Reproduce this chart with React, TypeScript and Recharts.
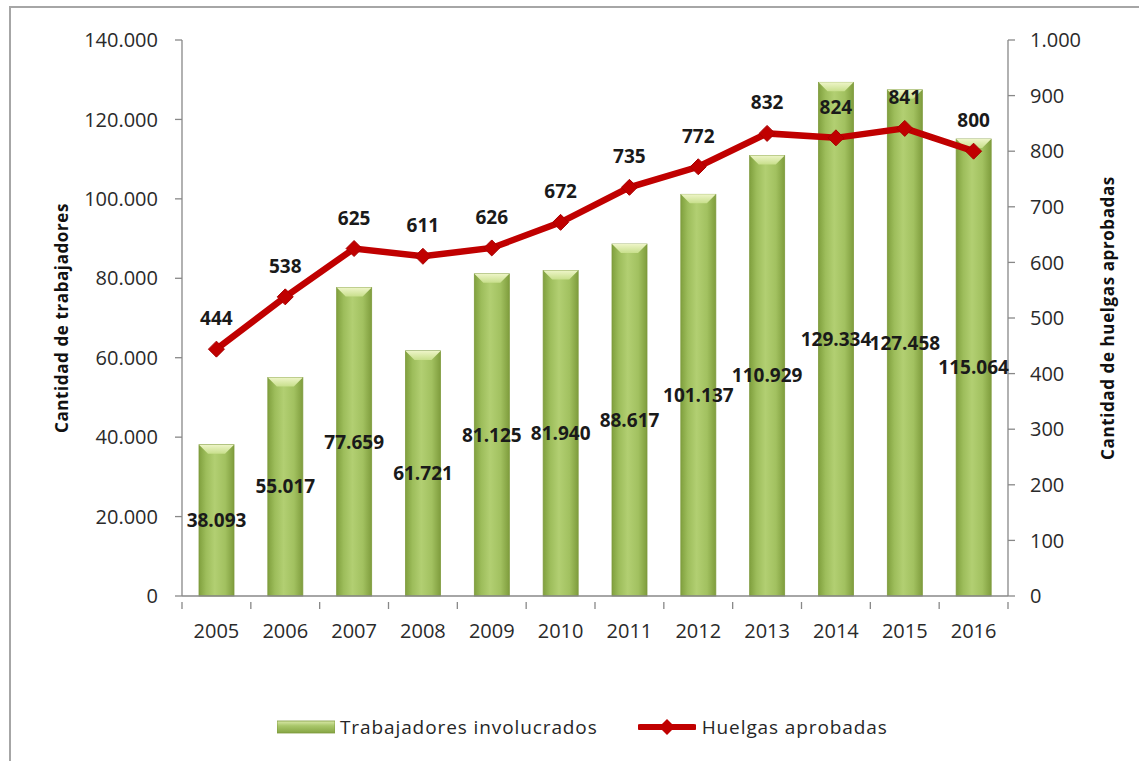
import React from 'react';
import { ComposedChart, Bar, Line, XAxis, YAxis, LabelList, Legend } from 'recharts';

const years = ['2005', '2006', '2007', '2008', '2009', '2010', '2011', '2012', '2013', '2014', '2015', '2016'];
const trabajadores = [38093, 55017, 77659, 61721, 81125, 81940, 88617, 101137, 110929, 129334, 127458, 115064];
const huelgas = [444, 538, 625, 611, 626, 672, 735, 772, 832, 824, 841, 800];
const leftTicks = [0, 20000, 40000, 60000, 80000, 100000, 120000, 140000];
const rightTicks = [0, 100, 200, 300, 400, 500, 600, 700, 800, 900, 1000];

const data = years.map((y, i) => ({ year: y, trab: trabajadores[i], huel: huelgas[i] }));

const FONT = '"Open Sans", "Liberation Sans", Arial, sans-serif';
const RED = '#c00000';

const fmt = (v: any) => String(v).replace(/\B(?=(\d{3})+(?!\d))/g, '.');

const BarShape = (props: any) => {
  const { x, y, width, height } = props;
  if (!height || height <= 0) return null;
  const b = Math.min(9, height / 2);
  return (
    <g>
      <rect x={x} y={y} width={width} height={height} fill="url(#barGrad)" stroke="#7e9a3c" strokeWidth={0.8} />
      <polygon
        points={`${x},${y} ${x + width},${y} ${x + width - b},${y + b} ${x + b},${y + b}`}
        fill="url(#bevelGrad)"
      />
    </g>
  );
};

const Diamond = (props: any) => {
  const { cx, cy } = props;
  if (cx == null || cy == null) return null;
  const r = 8;
  return (
    <polygon
      points={`${cx},${cy - r} ${cx + r},${cy} ${cx},${cy + r} ${cx - r},${cy}`}
      fill={RED}
      stroke="#a80000"
      strokeWidth={1}
    />
  );
};

const XTick = (props: any) => {
  const { x, y, payload, index } = props;
  const half = payload && payload.offset ? payload.offset : 34.4;
  const axisY = y - 22;
  return (
    <g>
      <line x1={x - half} y1={axisY} x2={x - half} y2={axisY + 7} stroke="#888" strokeWidth={1.3} />
      {index === years.length - 1 && (
        <line x1={x + half} y1={axisY} x2={x + half} y2={axisY + 7} stroke="#888" strokeWidth={1.3} />
      )}
      <text x={x} y={y} dy={14} textAnchor="middle" fontFamily={FONT} fontSize={20} fill="#2a2a2a">
        {payload.value}
      </text>
    </g>
  );
};

const LegendContent = () => (
  <div style={{ display: 'flex', alignItems: 'center', fontFamily: FONT, fontSize: 19, color: '#262626', whiteSpace: 'nowrap', letterSpacing: 0.9 }}>
    <svg width={58} height={14}>
      <defs>
        <linearGradient id="legGrad" x1="0" y1="0" x2="0" y2="1">
          <stop offset="0%" stopColor="#d9e8a8" />
          <stop offset="40%" stopColor="#a9c76a" />
          <stop offset="100%" stopColor="#86a544" />
        </linearGradient>
      </defs>
      <rect x={0} y={1} width={58} height={12} fill="url(#legGrad)" stroke="#7e9a3c" strokeWidth={0.8} />
    </svg>
    <span style={{ marginLeft: 5 }}>Trabajadores involucrados</span>
    <svg width={58} height={18} style={{ marginLeft: 40 }}>
      <line x1={2} y1={9} x2={56} y2={9} stroke={RED} strokeWidth={6} strokeLinecap="round" />
      <polygon points="29,1 37,9 29,17 21,9" fill={RED} />
    </svg>
    <span style={{ marginLeft: 6 }}>Huelgas aprobadas</span>
  </div>
);

export default function App() {
  return (
    <div style={{ position: 'absolute', left: 0, top: 0, width: 1139, height: 761, background: '#fff', overflow: 'hidden' }}>
      <div style={{ position: 'absolute', left: 9, top: 6, width: 1300, height: 900, border: '2px solid #a6a6a6', boxSizing: 'border-box' }} />
      <div style={{ position: 'absolute', left: 0, top: 0 }}>
        <ComposedChart width={1139} height={761} data={data} margin={{ top: 40, right: 0, bottom: 125, left: 0 }}>
          <defs>
            <linearGradient id="barGrad" x1="0" y1="0" x2="1" y2="0">
              <stop offset="0%" stopColor="#80a03e" />
              <stop offset="20%" stopColor="#9dbd5b" />
              <stop offset="45%" stopColor="#b2cf72" />
              <stop offset="75%" stopColor="#a2c160" />
              <stop offset="100%" stopColor="#7f9d3d" />
            </linearGradient>
            <linearGradient id="bevelGrad" x1="0" y1="0" x2="0" y2="1">
              <stop offset="0%" stopColor="#eef5c8" />
              <stop offset="100%" stopColor="#c8df8c" />
            </linearGradient>
          </defs>
          <XAxis
            dataKey="year"
            height={40}
            axisLine={{ stroke: '#888', strokeWidth: 1.3 }}
            tickLine={false}
            tick={<XTick />}
            tickMargin={22}
            interval={0}
          />
          <YAxis
            yAxisId="left"
            width={182}
            domain={[0, 140000]}
            ticks={leftTicks}
            tickFormatter={fmt}
            axisLine={{ stroke: '#888', strokeWidth: 1.3 }}
            tickLine={{ stroke: '#888', strokeWidth: 1.3 }}
            tickSize={7}
            tickMargin={17}
            tick={{ fontFamily: FONT, fontSize: 20, fill: '#2a2a2a' }}
            label={{
              value: 'Cantidad de trabajadores',
              angle: -90,
              position: 'center',
              dx: -29,
              style: { fontFamily: FONT, fontSize: 17, fontWeight: 700, fill: '#111', letterSpacing: 0.6 },
            }}
          />
          <YAxis
            yAxisId="right"
            orientation="right"
            width={131}
            domain={[0, 1000]}
            ticks={rightTicks}
            tickFormatter={fmt}
            axisLine={{ stroke: '#888', strokeWidth: 1.3 }}
            tickLine={{ stroke: '#888', strokeWidth: 1.3 }}
            tickSize={7}
            tickMargin={15}
            tick={{ fontFamily: FONT, fontSize: 20, fill: '#2a2a2a' }}
            label={{
              value: 'Cantidad de huelgas aprobadas',
              angle: -90,
              position: 'center',
              dx: 34,
              style: { fontFamily: FONT, fontSize: 17, fontWeight: 700, fill: '#111', letterSpacing: 0.6 },
            }}
          />
          <Legend
            layout="vertical"
            align="center"
            verticalAlign="middle"
            content={<LegendContent />}
            wrapperStyle={{ position: 'absolute', left: 277, top: 714, width: 700, height: 30 }}
          />
          <Bar yAxisId="left" dataKey="trab" name="Trabajadores involucrados" barSize={35} shape={<BarShape />} isAnimationActive={false}>
            <LabelList
              dataKey="trab"
              position="center"
              formatter={fmt}
              style={{ fontFamily: FONT, fontSize: 19, fontWeight: 700, fill: '#1a1a1a' }}
            />
          </Bar>
          <Line
            yAxisId="right"
            dataKey="huel"
            name="Huelgas aprobadas"
            stroke={RED}
            strokeWidth={6.5}
            dot={<Diamond />}
            activeDot={false}
            isAnimationActive={false}
          >
            <LabelList
              dataKey="huel"
              position="top"
              offset={24}
              style={{ fontFamily: FONT, fontSize: 19, fontWeight: 700, fill: '#1a1a1a' }}
            />
          </Line>
        </ComposedChart>
      </div>
    </div>
  );
}
